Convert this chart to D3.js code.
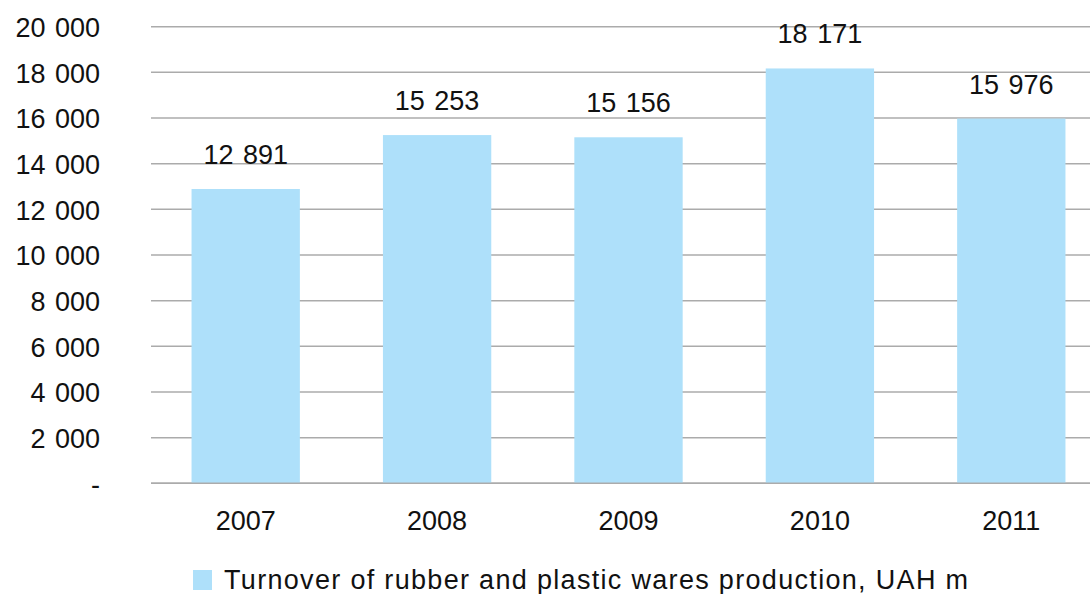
<!DOCTYPE html>
<html>
<head>
<meta charset="utf-8">
<script src="https://cdn.jsdelivr.net/npm/d3@7"></script>
<style>
  html, body { margin: 0; padding: 0; background: #fff; }
  svg { display: block; }
  text { font-family: "Liberation Sans", Arial, Helvetica, sans-serif; fill: #111; }
</style>
</head>
<body>
<svg id="chart" width="1090" height="594"></svg>
<script>
// Turnover of rubber and plastic wares production, UAH m
const years = ["2007", "2008", "2009", "2010", "2011"];
const turnover = [12891, 15253, 15156, 18171, 15976];
const yTicks = [0, 2000, 4000, 6000, 8000, 10000, 12000, 14000, 16000, 18000, 20000];
const legendLabel = "Turnover of rubber and plastic wares production, UAH m";

const svg = d3.select("#chart");
const barColor = "#aee0fa";
const gridColor = "#ababab";

const x = d3.scaleBand()
  .domain(years)
  .range([150, 1107])
  .paddingInner(0.434)
  .paddingOuter(0.217);

const y = d3.scaleLinear()
  .domain([0, 20000])
  .range([483.3, 26.7]);

// thousands separated by a space, zero shown as a dash
const fmt = v => v === 0 ? "-" : d3.format(",")(v).replace(/,/g, " ");

// horizontal gridlines
svg.append("g")
  .selectAll("line")
  .data(yTicks)
  .join("line")
  .attr("x1", 151)
  .attr("x2", 1107)
  .attr("y1", d => y(d))
  .attr("y2", d => y(d))
  .attr("stroke", gridColor)
  .attr("stroke-width", 1.5);

// y axis labels
const yAxis = svg.append("g")
  .attr("transform", "translate(100,0)")
  .call(d3.axisLeft(y).tickValues(yTicks).tickFormat(fmt).tickSize(0).tickPadding(0));
yAxis.select(".domain").remove();
yAxis.selectAll("text")
  .attr("font-size", "27px")
  .attr("word-spacing", "2px")
  .attr("fill", "#111")
  .attr("dy", "0.36em");

// bars
svg.append("g")
  .selectAll("rect")
  .data(years)
  .join("rect")
  .attr("x", d => x(d))
  .attr("width", x.bandwidth())
  .attr("y", (d, i) => y(turnover[i]))
  .attr("height", (d, i) => y(0) - y(turnover[i]))
  .attr("fill", barColor);

// baseline drawn over the bar bottoms
svg.append("line")
  .attr("x1", 151).attr("x2", 1107)
  .attr("y1", y(0)).attr("y2", y(0))
  .attr("stroke", gridColor)
  .attr("stroke-width", 1.5);

// value labels above bars
svg.append("g")
  .selectAll("text")
  .data(years)
  .join("text")
  .attr("x", d => x(d) + x.bandwidth() / 2)
  .attr("y", (d, i) => y(turnover[i]) - 25)
  .attr("text-anchor", "middle")
  .attr("font-size", "27px")
  .attr("word-spacing", "2px")
  .text((d, i) => fmt(turnover[i]));

// x axis labels
const xAxis = svg.append("g")
  .attr("transform", `translate(0,${y(0)})`)
  .call(d3.axisBottom(x).tickSize(0).tickPadding(0));
xAxis.select(".domain").remove();
xAxis.selectAll("text")
  .attr("font-size", "27px")
  .attr("fill", "#111")
  .attr("dy", "1.73em");

// legend
const legend = svg.append("g");
legend.append("rect")
  .attr("x", 193).attr("y", 570)
  .attr("width", 19).attr("height", 20)
  .attr("fill", barColor);
legend.append("text")
  .attr("x", 224).attr("y", 589)
  .attr("font-size", "27px")
  .attr("textLength", 744)
  .attr("lengthAdjust", "spacing")
  .text(legendLabel);
</script>
</body>
</html>
